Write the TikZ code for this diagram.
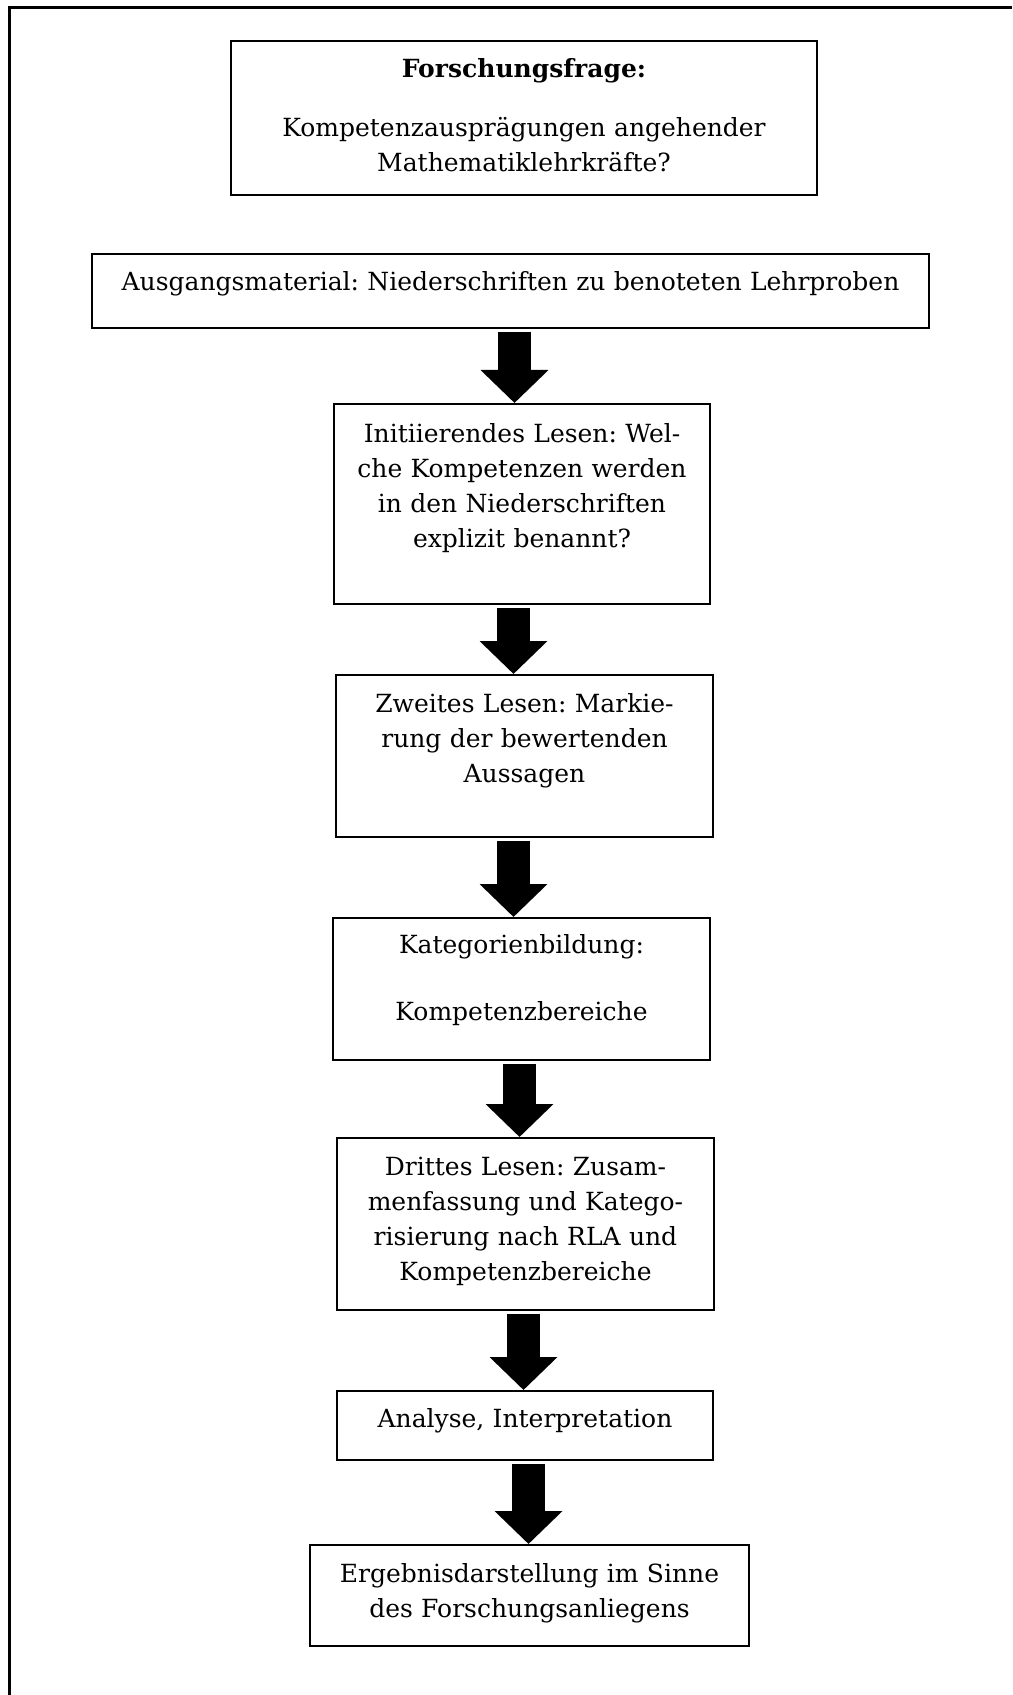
\documentclass[tikz,border=0pt]{standalone}
\usepackage{fontspec}
\setmainfont{DejaVu Serif}
\usetikzlibrary{arrows.meta}
\frenchspacing

\begin{document}
\begin{tikzpicture}[x=0.5pt, y=-0.5pt,
  kasten/.style={draw=black, line width=0.8pt, anchor=north, align=center, inner xsep=0pt, inner ysep=0pt, font=\fontsize{12.5}{17.5}\selectfont},
  blockpfeil/.style={line width=16.5pt, -{Triangle[width=33pt, length=16.5pt]}}]
\useasboundingbox (0,0) rectangle (1012,1695);
\draw[line width=1.4pt] (9.7,1695) -- (9.7,7.5) -- (1012,7.5);

\node[kasten, text width=293pt, text height=18.5pt, text depth=58.5pt] (frage) at (524,40) {\textbf{Forschungsfrage:}\\[12pt] Kompetenzausprägungen angehender\\ Mathematiklehrkräfte?};
\node[kasten, text width=418.5pt, text height=18.5pt, text depth=18.5pt] (ausgang) at (510.5,253) {Ausgangsmaterial: Niederschriften zu benoteten Lehrproben};
\node[kasten, text width=188pt, text height=19.5pt, text depth=80.5pt] (lesen1) at (522,403) {Initiierendes Lesen: Wel-\\che Kompetenzen werden\\in den Niederschriften\\explizit benannt?};
\node[kasten, text width=188.5pt, text height=19pt, text depth=62pt] (lesen2) at (524.5,674) {Zweites Lesen: Markie-\\rung der bewertenden\\Aussagen};
\node[kasten, text width=188.5pt, text height=18pt, text depth=53pt] (kategorien) at (521.5,917) {Kategorienbildung:\\[16pt]Kompetenzbereiche};
\node[kasten, text width=188.5pt, text height=19pt, text depth=67pt] (lesen3) at (525.5,1137) {Drittes Lesen: Zusam-\\menfassung und Katego-\\risierung nach RLA und\\Kompetenzbereiche};
\node[kasten, text width=188pt, text height=18.5pt, text depth=16pt] (analyse) at (525,1390) {Analyse, Interpretation};
\node[kasten, text width=219.5pt, text height=19pt, text depth=31.5pt] (ergebnis) at (529.5,1544) {Ergebnisdarstellung im Sinne\\des Forschungsanliegens};

\foreach \a/\b/\s/\t in {ausgang/lesen1/4/-7.5, lesen1/lesen2/-8.5/-11, lesen2/kategorien/-11/-8, kategorien/lesen3/-2/-6, lesen3/analyse/-2/-1.5, analyse/ergebnis/3.5/-1}
  \draw[blockpfeil] ([shift={(\s,3)}]\a.south) -- ([shift={(\t,0)}]\b.north);

\end{tikzpicture}
\end{document}
